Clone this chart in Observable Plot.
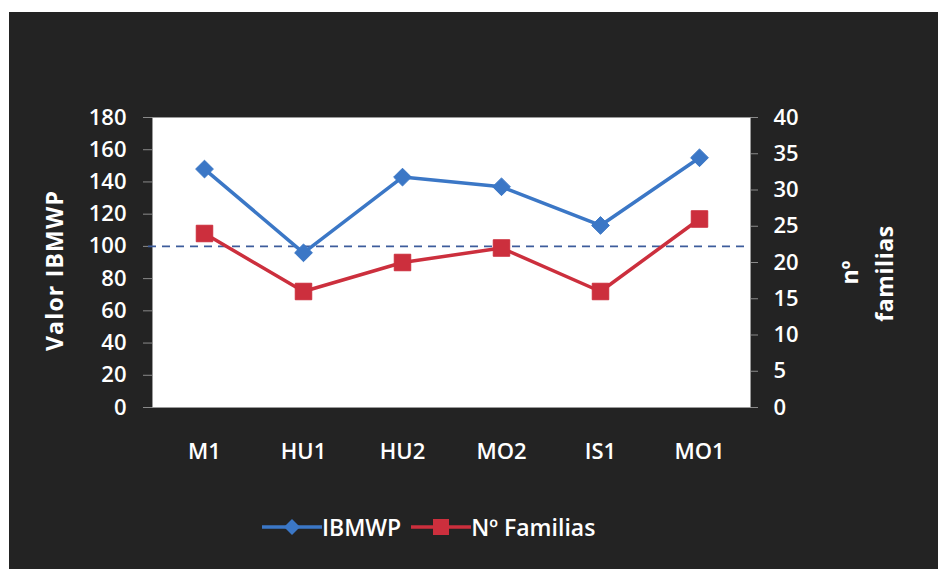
<!DOCTYPE html>
<html>
<head>
<meta charset="utf-8">
<script src="https://cdn.jsdelivr.net/npm/d3@7"></script>
<script src="https://cdn.jsdelivr.net/npm/@observablehq/plot@0.6"></script>
<style>
  html, body { margin: 0; padding: 0; background: #ffffff; }
  #wrap { position: absolute; left: 9px; top: 12px; width: 929px; height: 557px; background: #232323; overflow: hidden;
          font-family: "Open Sans", sans-serif; }
  #chart svg { display: block; }
  #legend { position: absolute; left: 253px; top: 503px; height: 24px; display: flex; align-items: center;
            color: #ffffff; font-size: 23px; font-weight: 600; }
  #legend .item { display: flex; align-items: center; }
  #legend svg { display: block; }
</style>
</head>
<body>
<div id="wrap">
  <div id="chart"></div>
  <div id="legend"></div>
</div>
<script>
const categories = ["M1", "HU1", "HU2", "MO2", "IS1", "MO1"];
const ibmwp = [148, 96, 143, 137, 113, 155];
const familias = [24, 16, 20, 22, 16, 26];
const leftTicks = [0, 20, 40, 60, 80, 100, 120, 140, 160, 180];
const rightTicks = [0, 5, 10, 15, 20, 25, 30, 35, 40];
const threshold = [100];
const seriesNames = ["IBMWP", "Nº Familias"];
const leftTitle = "Valor IBMWP";
const rightTitle = ["nº", "familias"];

const blue = "#3b77c6";
const red = "#cc2f3d";
const k = 180 / 40; // secondary axis mapping onto primary scale

const dataI = categories.map((c, i) => ({cat: c, v: ibmwp[i]}));
const dataF = categories.map((c, i) => ({cat: c, v: familias[i]}));

const chart = Plot.plot({
  width: 929,
  height: 470,
  marginLeft: 143,
  marginRight: 188,
  marginTop: 105,
  marginBottom: 75,
  style: {background: "transparent", color: "#ffffff", fontFamily: "Open Sans, sans-serif", fontSize: "22px", fontWeight: 600},
  x: {type: "point", domain: categories, padding: 0.5},
  y: {domain: [0, 180]},
  marks: [
    Plot.frame({fill: "#ffffff", stroke: "#9a9a9a"}),
    Plot.axisY(leftTicks, {anchor: "left", tickSize: 9, tickPadding: 17, stroke: "#8a8a8a", fill: "#ffffff", label: null}),
    Plot.axisY(rightTicks.map(v => v * k), {anchor: "right", tickSize: 7, tickPadding: 16, stroke: "#8a8a8a", fill: "#ffffff",
      tickFormat: v => String(Math.round(v / k)), label: null}),
    Plot.axisX({anchor: "bottom", tickSize: 0, tickPadding: 36, fill: "#ffffff", label: null}),
    Plot.ruleY(threshold, {stroke: "#3d5c9c", strokeWidth: 1.6, strokeDasharray: "8,6", insetLeft: -4}),
    Plot.line(dataI, {x: "cat", y: "v", stroke: blue, strokeWidth: 3.5}),
    Plot.dot(dataI, {x: "cat", y: "v", symbol: "diamond2", r: 8, fill: blue, stroke: blue, strokeWidth: 1}),
    Plot.line(dataF, {x: "cat", y: d => d.v * k, stroke: red, strokeWidth: 3.5}),
    Plot.dot(dataF, {x: "cat", y: d => d.v * k, symbol: "square", r: 9.3, fill: red, stroke: red, strokeWidth: 1}),
    Plot.text([leftTitle], {text: d => d, frameAnchor: "left", textAnchor: "middle", dx: -97, dy: 8, rotate: -90, fill: "#ffffff", fontWeight: "bold", fontSize: 23}),
    Plot.text([rightTitle[0]], {text: d => d, frameAnchor: "right", textAnchor: "middle", dx: 100, dy: 10, rotate: -90, fill: "#ffffff", fontWeight: "bold", fontSize: 23}),
    Plot.text([rightTitle[1]], {text: d => d, frameAnchor: "right", textAnchor: "middle", dx: 135, dy: 11, rotate: -90, fill: "#ffffff", fontWeight: "bold", fontSize: 23})
  ]
});
document.getElementById("chart").appendChild(chart);
chart.querySelectorAll("text").forEach(t => {
  if (t.textContent === leftTitle) t.style.letterSpacing = "1.2px";
  if (t.textContent === rightTitle[1]) t.style.letterSpacing = "0.6px";
});

// legend
const legend = document.getElementById("legend");
const colors = [blue, red];
const symbols = ["diamond", "square"];
seriesNames.forEach((name, i) => {
  const item = document.createElement("div");
  item.className = "item";
  item.style.marginRight = i === 0 ? "10px" : "0";
  const ns = "http://www.w3.org/2000/svg";
  const s = document.createElementNS(ns, "svg");
  s.setAttribute("width", 60); s.setAttribute("height", 24);
  const ln = document.createElementNS(ns, "line");
  ln.setAttribute("x1", 0); ln.setAttribute("x2", 60); ln.setAttribute("y1", 12); ln.setAttribute("y2", 12);
  ln.setAttribute("stroke", colors[i]); ln.setAttribute("stroke-width", 3.5);
  s.appendChild(ln);
  const p = document.createElementNS(ns, "path");
  p.setAttribute("d", symbols[i] === "diamond" ? "M30,4L38,12L30,20L22,12Z" : "M22,4H38V20H22Z");
  p.setAttribute("fill", colors[i]);
  s.appendChild(p);
  item.appendChild(s);
  const t = document.createElement("span");
  t.textContent = name;
  item.appendChild(t);
  legend.appendChild(item);
});
</script>
</body>
</html>
